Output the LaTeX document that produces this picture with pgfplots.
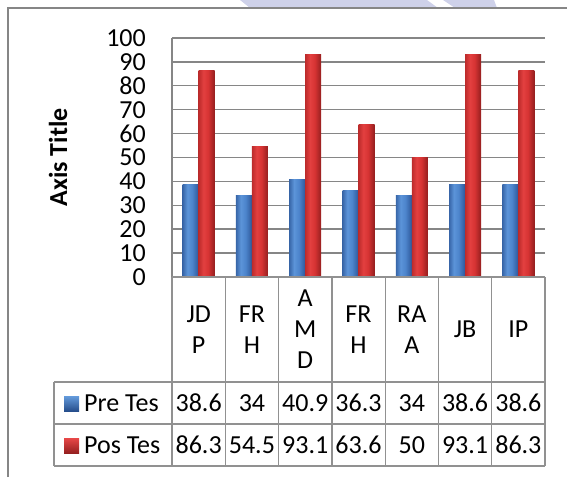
\documentclass[border=0pt]{standalone}
\usepackage{fontspec}
\setmainfont{Carlito}
\usepackage{pgfplots}
\pgfplotsset{compat=1.18}
\definecolor{gridc}{RGB}{134,134,134}
\definecolor{tabc}{RGB}{145,145,145}
\definecolor{wm}{RGB}{206,209,233}
\definecolor{blB}{RGB}{100,155,220}
\definecolor{blC}{RGB}{38,78,140}
\definecolor{rdB}{RGB}{232,72,72}
\definecolor{rdC}{RGB}{150,32,32}
\pgfdeclarehorizontalshading{bluecyl}{100bp}{
  rgb(0bp)=(0.22,0.40,0.66);
  rgb(25bp)=(0.22,0.40,0.66);
  rgb(40bp)=(0.36,0.58,0.85);
  rgb(55bp)=(0.30,0.52,0.80);
  rgb(75bp)=(0.18,0.34,0.60);
  rgb(100bp)=(0.18,0.34,0.60)}
\pgfdeclarehorizontalshading{redcyl}{100bp}{
  rgb(0bp)=(0.74,0.17,0.17);
  rgb(25bp)=(0.74,0.17,0.17);
  rgb(40bp)=(0.89,0.25,0.25);
  rgb(55bp)=(0.84,0.20,0.20);
  rgb(75bp)=(0.58,0.12,0.12);
  rgb(100bp)=(0.58,0.12,0.12)}
\newcommand{\bigf}{\fontsize{26}{31}\selectfont}
\pgfplotsset{
  pre/.style={draw=none, shading=bluecyl, bar shift=-8pt},
  pos/.style={draw=none, shading=redcyl, bar shift=8pt},
}
\begin{document}
\begin{tikzpicture}[x=1pt,y=1pt]
\useasboundingbox (0,0) rectangle (567,477);
% faint watermark above the frame
\fill[wm] (240,477) -- (427,477) -- (438,469) -- (250,469) -- cycle;
\fill[wm] (443,477) -- (494,477) -- (497,469) -- (455,469) -- cycle;
% chart frame
\draw[gridc, line width=1.4pt] (8,0) -- (8,469) -- (567,469);
\begin{axis}[
  at={(172pt,200pt)}, anchor=south west, scale only axis,
  width=373pt, height=239pt,
  xmin=-0.5, xmax=6.5, ymin=0, ymax=100,
  ytick={0,10,...,100}, xtick=\empty,
  axis lines=left, axis line style={-, gridc, line width=1.4pt},
  ymajorgrids, grid style={gridc, line width=1.4pt},
  major tick length=0pt,
  ybar=0pt, bar width=16pt,
  tick label style={font=\bigf},
  yticklabel style={inner sep=0pt, xshift=-26pt, anchor=east},
  /pgf/number format/assume math mode=true,
  ylabel={\bfseries Axis Title},
  ylabel style={font=\bigf, at={(axis description cs:-0.3056,0.5)}, anchor=center},
  clip=false,
]
% Pre Tes
\addplot[pre] coordinates {(0,38.6)};
\addplot[pre] coordinates {(1,34)};
\addplot[pre] coordinates {(2,40.9)};
\addplot[pre] coordinates {(3,36.3)};
\addplot[pre] coordinates {(4,34)};
\addplot[pre] coordinates {(5,38.6)};
\addplot[pre] coordinates {(6,38.6)};
% Pos Tes
\addplot[pos] coordinates {(0,86.3)};
\addplot[pos] coordinates {(1,54.5)};
\addplot[pos] coordinates {(2,93.1)};
\addplot[pos] coordinates {(3,63.6)};
\addplot[pos] coordinates {(4,50)};
\addplot[pos] coordinates {(5,93.1)};
\addplot[pos] coordinates {(6,86.3)};
\end{axis}
% data table
\begin{scope}[tabc, line width=1.3pt]
  \draw (172,200) -- (545,200);
  \draw (54,95) -- (545,95);
  \draw (54,53) -- (545,53);
  \draw (54,11) -- (545,11);
  \draw (54,95) -- (54,11);
  \foreach \i in {0,...,7} {
    \draw ({172+\i*53.286},200) -- ({172+\i*53.286},11);
  }
\end{scope}
% category names
\foreach \lab [count=\i from 0] in {{JD\\P},{FR\\H},{A\\M\\D},{FR\\H},{RA\\A},{JB},{IP}} {
  \node[align=center, font=\bigf, inner sep=0pt] at ({172+53.286*(\i+0.5)},147.5) {\lab};
}
% legend keys
\shade[top color=blB, bottom color=blC] (64,66) rectangle (79,81);
\shade[top color=rdB, bottom color=rdC] (64,24) rectangle (79,39);
\node[anchor=west, font=\bigf, inner sep=0pt] at (84,74) {Pre Tes};
\node[anchor=west, font=\bigf, inner sep=0pt] at (84,32) {Pos Tes};
% values
\foreach \v [count=\i from 0] in {38.6,34,40.9,36.3,34,38.6,38.6} {
  \node[font=\bigf, inner sep=0pt] at ({172+53.286*(\i+0.5)},74) {\v};
}
\foreach \v [count=\i from 0] in {86.3,54.5,93.1,63.6,50,93.1,86.3} {
  \node[font=\bigf, inner sep=0pt] at ({172+53.286*(\i+0.5)},32) {\v};
}
\end{tikzpicture}
\end{document}
